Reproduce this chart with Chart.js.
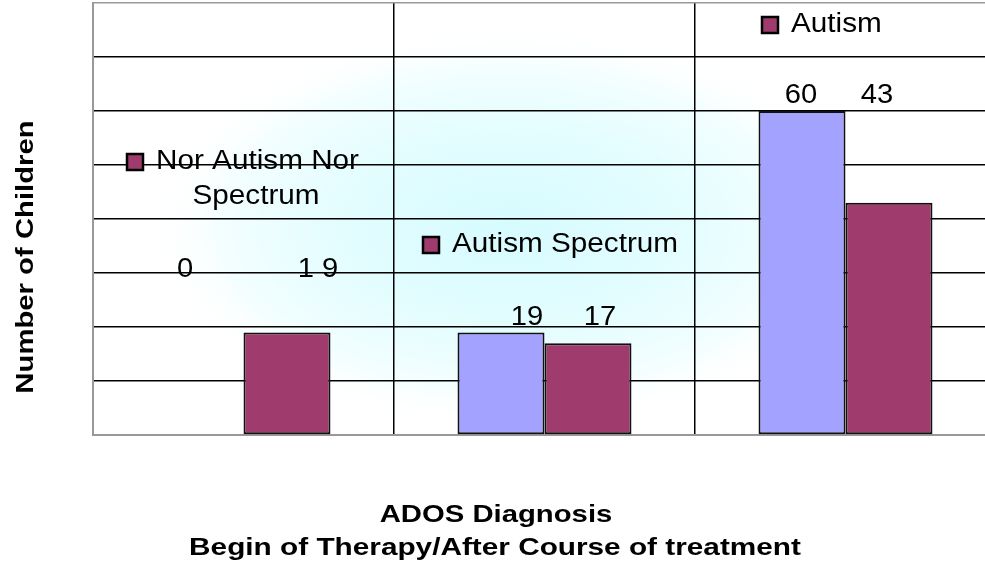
<!DOCTYPE html>
<html>
<head>
<meta charset="utf-8">
<script src="https://cdn.jsdelivr.net/npm/chart.js@4.4.0/dist/chart.umd.min.js"></script>
<style>
    body { margin: 0; background: #fff; overflow: hidden; }
    #wrap { width: 1000px; height: 564px; }
</style>
</head>
<body>
<div id="wrap"><canvas id="chart" width="1000" height="564"></canvas></div>
<script>
"use strict"

// datos
var categorias = ["Nor Autism Nor Spectrum", "Autism Spectrum", "Autism"];
var inicioTerapia = [0, 19, 60];
var despuesTratamiento = [19, 17, 43];
var etiquetasValor = [["0", "1 9"], ["19", "17"], ["60", "43"]];
var maxY = 80;
var pasoY = 10;

var FUENTE = "Arial, 'Liberation Sans', sans-serif";
var CLARO = "#a3a3ff";
var OSCURO = "#a03b6d";

// colocacion del texto dentro del area de la grafica
var textoCategorias = [
    { x: 127, y: 162, lineas: ["Nor Autism Nor", "Spectrum"], centro2: 256 },
    { x: 423, y: 245, lineas: ["Autism Spectrum"] },
    { x: 762, y: 25, lineas: ["Autism"] }
];
var ajusteValores = { dx: [[-15, 31], [26, 12], [-1, -12]], dy: [48, 0, 0] };

// texto algo mas ancho, como en el original
var escribir = function (ctx, txt, x, y, alinear, ancho) {
    ctx.save();
    ctx.translate(x, y);
    ctx.scale(ancho, 1);
    ctx.textAlign = alinear;
    ctx.fillText(txt, 0, 0);
    ctx.restore();
};

var fondo = {
    id: "fondo",
    beforeDraw: function (chart) {
        let ctx = chart.ctx;
        let a = chart.chartArea;
        ctx.save();
        ctx.fillStyle = "#fff";
        ctx.fillRect(0, 0, chart.width, chart.height);
        ctx.beginPath();
        ctx.rect(a.left, a.top, a.right - a.left, a.bottom - a.top);
        ctx.clip();
        ctx.translate(510, 228);
        ctx.scale(1.8, 1);
        let g = ctx.createRadialGradient(0, 0, 0, 0, 0, 200);
        g.addColorStop(0, "#d6fbff");
        g.addColorStop(0.5, "#e4fdff");
        g.addColorStop(0.8, "#f3feff");
        g.addColorStop(1, "rgba(255,255,255,0)");
        ctx.fillStyle = g;
        ctx.fillRect(-400, -300, 800, 600);
        ctx.restore();
    }
};

var textos = {
    id: "textos",
    afterDatasetsDraw: function (chart) {
        let ctx = chart.ctx;
        let yScale = chart.scales.y;
        ctx.save();
        ctx.fillStyle = "#000";
        ctx.font = "27px " + FUENTE;
        ctx.textBaseline = "middle";

        // valores encima de cada grupo
        for (let i = 0; i < categorias.length; i++) {
            let alto = Math.max(inicioTerapia[i], despuesTratamiento[i]);
            let y = yScale.getPixelForValue(alto) - 15 - ajusteValores.dy[i];
            for (let d = 0; d < 2; d++) {
                let barra = chart.getDatasetMeta(d).data[i];
                escribir(ctx, etiquetasValor[i][d], barra.x + ajusteValores.dx[i][d], y, "center", 1.08);
            }
        }

        // nombres de categoria con su cuadrito
        textoCategorias.forEach(function (t) {
            ctx.fillStyle = OSCURO;
            ctx.fillRect(t.x, t.y - 8, 16, 16);
            ctx.strokeStyle = "#000";
            ctx.lineWidth = 2.5;
            ctx.strokeRect(t.x, t.y - 8, 16, 16);
            ctx.fillStyle = "#000";
            escribir(ctx, t.lineas[0], t.x + 29, t.y, "left", 1.1);
            if (t.lineas[1]) {
                escribir(ctx, t.lineas[1], t.centro2, t.y + 35, "center", 1.1);
            }
        });

        // titulos de los ejes
        ctx.font = "bold 24px " + FUENTE;
        escribir(ctx, "ADOS Diagnosis", 496, 515, "center", 1.22);
        escribir(ctx, "Begin of Therapy/After Course of treatment", 495, 548, "center", 1.24);
        ctx.translate(26, 257);
        ctx.rotate(-Math.PI / 2);
        escribir(ctx, "Number of Children", 0, 0, "center", 1.22);
        ctx.restore();
    }
};

new Chart(document.getElementById("chart"), {
    type: "bar",
    data: {
        labels: categorias,
        datasets: [
            {
                label: "Begin of Therapy",
                data: inicioTerapia,
                backgroundColor: CLARO,
                borderColor: "#111",
                borderWidth: 2,
                borderSkipped: false,
                categoryPercentage: 0.578,
                barPercentage: 1
            },
            {
                label: "After Course of treatment",
                data: despuesTratamiento,
                backgroundColor: OSCURO,
                borderColor: "#111",
                borderWidth: 2,
                borderSkipped: false,
                categoryPercentage: 0.578,
                barPercentage: 1
            }
        ]
    },
    options: {
        responsive: false,
        animation: false,
        layout: { padding: { left: 93, right: 4, top: 3, bottom: 129 } },
        plugins: {
            legend: { display: false },
            title: { display: false },
            tooltip: { enabled: false }
        },
        scales: {
            x: {
                ticks: { display: false },
                grid: { color: "#000", lineWidth: 1.5, drawTicks: false, offset: true },
                border: { color: "#999", width: 2 }
            },
            y: {
                min: 0,
                max: maxY,
                ticks: { display: false, stepSize: pasoY },
                grid: {
                    drawTicks: false,
                    lineWidth: 1.5,
                    color: function (c) {
                        return (c.tick && (c.tick.value === 0 || c.tick.value === maxY)) ? "#999" : "#000";
                    }
                },
                border: { color: "#999", width: 2 }
            }
        }
    },
    plugins: [fondo, textos]
});
</script>
</body>
</html>
